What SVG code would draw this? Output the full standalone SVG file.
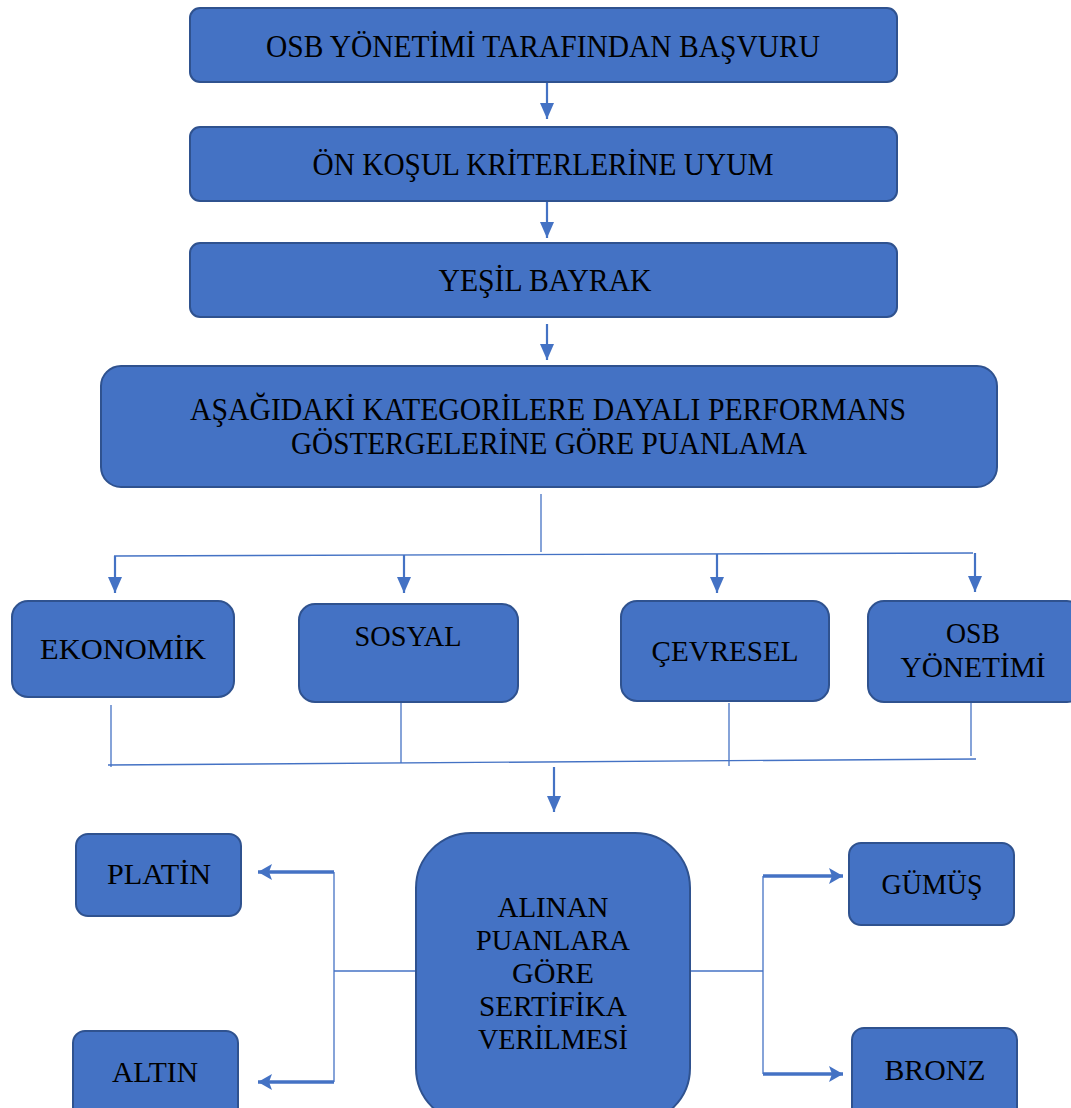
<svg xmlns="http://www.w3.org/2000/svg" width="1071" height="1108" viewBox="0 0 1071 1108">
<style>
.box{fill:#4472C4;stroke:#2F528F;stroke-width:2}
.t{font-family:"Liberation Serif","Times New Roman",serif;font-size:31px;fill:#000;text-anchor:middle}
.s{font-family:"Liberation Serif","Times New Roman",serif;font-size:29px;fill:#000;text-anchor:middle}
.ln{stroke:#4472C4;stroke-width:1.3;fill:none}
.ar{stroke:#4472C4;stroke-width:2.2;fill:none}
.th{stroke:#4472C4;stroke-width:3.5;fill:none}
</style>
<defs>
<marker id="ah" markerUnits="userSpaceOnUse" markerWidth="16" markerHeight="16" viewBox="0 0 16 16" refX="16" refY="8" orient="auto">
<path d="M0,1 L16,8 L0,15 Z" fill="#4472C4"/>
</marker>
<marker id="ah2" markerUnits="userSpaceOnUse" markerWidth="14" markerHeight="16" viewBox="0 0 14 16" refX="14" refY="8" orient="auto">
<path d="M0,0 L14,8 L0,16 L3,8 Z" fill="#4472C4"/>
</marker>
</defs>
<g id="connectors">
<line class="ar" x1="547" y1="83" x2="547" y2="119" marker-end="url(#ah)"/>
<line class="ar" x1="547" y1="202" x2="547" y2="238" marker-end="url(#ah)"/>
<line class="ar" x1="547" y1="324" x2="547" y2="360" marker-end="url(#ah)"/>
<line class="ln" x1="541" y1="494" x2="541" y2="552"/>
<line class="ln" x1="114" y1="556" x2="973" y2="553"/>
<line class="ar" x1="115" y1="556" x2="115" y2="593" marker-end="url(#ah)"/>
<line class="ar" x1="404" y1="555" x2="404" y2="593" marker-end="url(#ah)"/>
<line class="ar" x1="717" y1="554" x2="717" y2="593" marker-end="url(#ah)"/>
<line class="ar" x1="975" y1="553" x2="975" y2="592" marker-end="url(#ah)"/>
<line class="ln" x1="111" y1="705" x2="111" y2="767"/>
<line class="ln" x1="401" y1="703" x2="401" y2="763"/>
<line class="ln" x1="729" y1="703" x2="729" y2="766"/>
<line class="ln" x1="971" y1="703" x2="971" y2="756"/>
<line class="ln" x1="108" y1="765" x2="976" y2="759"/>
<line class="ar" x1="554" y1="767" x2="554" y2="812" marker-end="url(#ah)"/>
<line class="ln" x1="415" y1="971" x2="334" y2="971"/>
<line class="ln" x1="334" y1="872" x2="334" y2="1082"/>
<line class="th" x1="334" y1="872" x2="258" y2="872" marker-end="url(#ah2)"/>
<line class="th" x1="334" y1="1082" x2="258" y2="1082" marker-end="url(#ah2)"/>
<line class="ln" x1="691" y1="971" x2="763" y2="971"/>
<line class="ln" x1="763" y1="876" x2="763" y2="1074"/>
<line class="th" x1="763" y1="876" x2="843" y2="876" marker-end="url(#ah2)"/>
<line class="th" x1="763" y1="1074" x2="843" y2="1074" marker-end="url(#ah2)"/>
</g>
<g id="n1"><rect class="box" x="190" y="8" width="707" height="74" rx="10"/><text class="t" x="543" y="57" textLength="554" lengthAdjust="spacingAndGlyphs">OSB YÖNETİMİ TARAFINDAN BAŞVURU</text></g>
<g id="n2"><rect class="box" x="190" y="127" width="707" height="74" rx="10"/><text class="t" x="543" y="175" textLength="461" lengthAdjust="spacingAndGlyphs">ÖN KOŞUL KRİTERLERİNE UYUM</text></g>
<g id="n3"><rect class="box" x="190" y="243" width="707" height="74" rx="10"/><text class="t" x="545" y="291" textLength="213" lengthAdjust="spacingAndGlyphs">YEŞİL BAYRAK</text></g>
<g id="n4"><rect class="box" x="101" y="366" width="896" height="121" rx="20"/><text class="t" x="548" y="420" textLength="716" lengthAdjust="spacingAndGlyphs">AŞAĞIDAKİ KATEGORİLERE DAYALI PERFORMANS</text><text class="t" x="549" y="454" textLength="516" lengthAdjust="spacingAndGlyphs">GÖSTERGELERİNE GÖRE PUANLAMA</text></g>
<g id="n5"><rect class="box" x="12" y="601" width="222" height="96" rx="16"/><text class="s" x="123" y="659" textLength="166" lengthAdjust="spacingAndGlyphs">EKONOMİK</text></g>
<g id="n6"><rect class="box" x="299" y="604" width="219" height="98" rx="16"/><text class="s" x="408" y="646" textLength="107" lengthAdjust="spacingAndGlyphs">SOSYAL</text></g>
<g id="n7"><rect class="box" x="621" y="601" width="208" height="100" rx="16"/><text class="s" x="725" y="661" textLength="147" lengthAdjust="spacingAndGlyphs">ÇEVRESEL</text></g>
<g id="n8"><rect class="box" x="868" y="601" width="215" height="101" rx="16"/><text class="s" x="973" y="643" textLength="54" lengthAdjust="spacingAndGlyphs">OSB</text><text class="s" x="973" y="677" textLength="145" lengthAdjust="spacingAndGlyphs">YÖNETİMİ</text></g>
<g id="n9"><rect class="box" x="416" y="833" width="274" height="290" rx="55"/>
<text class="s" x="553" y="917" textLength="111" lengthAdjust="spacingAndGlyphs">ALINAN</text>
<text class="s" x="553" y="950" textLength="154" lengthAdjust="spacingAndGlyphs">PUANLARA</text>
<text class="s" x="553" y="983" textLength="82" lengthAdjust="spacingAndGlyphs">GÖRE</text>
<text class="s" x="553" y="1016" textLength="148" lengthAdjust="spacingAndGlyphs">SERTİFİKA</text>
<text class="s" x="553" y="1049" textLength="150" lengthAdjust="spacingAndGlyphs">VERİLMESİ</text></g>
<g id="n10"><rect class="box" x="76" y="834" width="165" height="82" rx="12"/><text class="s" x="159" y="884" textLength="104" lengthAdjust="spacingAndGlyphs">PLATİN</text></g>
<g id="n11"><rect class="box" x="73" y="1031" width="165" height="90" rx="12"/><text class="s" x="155" y="1082" textLength="86" lengthAdjust="spacingAndGlyphs">ALTIN</text></g>
<g id="n12"><rect class="box" x="849" y="843" width="165" height="82" rx="12"/><text class="s" x="932" y="894" textLength="101" lengthAdjust="spacingAndGlyphs">GÜMÜŞ</text></g>
<g id="n13"><rect class="box" x="852" y="1028" width="165" height="92" rx="12"/><text class="s" x="935" y="1080" textLength="101" lengthAdjust="spacingAndGlyphs">BRONZ</text></g>
</svg>
